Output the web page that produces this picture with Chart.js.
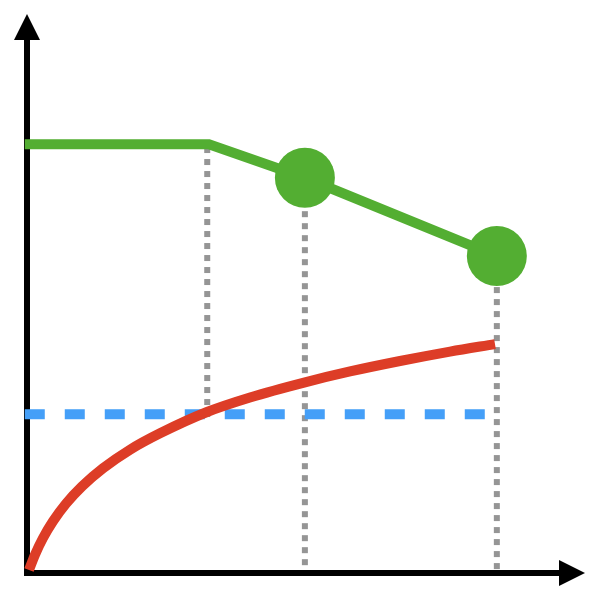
<!DOCTYPE html>
<html>
<head>
<meta charset="utf-8">
<script src="https://cdn.jsdelivr.net/npm/chart.js@4/dist/chart.umd.min.js"></script>
<style>
  body { margin: 0; background: #fff; }
  #wrap { width: 600px; height: 600px; }
</style>
</head>
<body>
<div id="wrap"><canvas id="diagram" width="600" height="600"></canvas></div>
<script>
// values (x and y both on a 0..100 scale)
const greenX = [-0.4, 32.6, 49.8, 84.2];
const greenY = [76.7, 76.7, 70.7, 56.7];
const greenDots = [0, 0, 30, 30];

const redX = [0.36, 1.43, 2.87, 4.66, 6.99, 9.86, 13.62, 18.46, 23.84, 32.26, 39.96, 49.82, 57.89, 66.85, 75.81, 83.87];
const redY = [0.54, 3.27, 6.26, 9.25, 12.40, 15.49, 18.73, 22.06, 24.99, 28.80, 31.40, 34.11, 36.05, 37.92, 39.61, 40.95];

const blueX = [-0.4, 82.1];
const blueLevel = 28.4;

const guideX = [32.3, 49.8, 84.2];
const guideBottom = [27.9, 1.4, 0.7];
const guideTop = [76.7, 70.7, 56.7];

const toPoints = (xs, ys) => xs.map((x, i) => ({ x: x, y: ys[i] }));

const guides = guideX.map((x, i) => ({
    data: [{ x: x, y: guideBottom[i] }, { x: x, y: guideTop[i] }],
    borderColor: '#959595',
    borderWidth: 6,
    borderDash: [6, 6],
    pointRadius: 0,
    clip: false,
    order: 4
}));

// black axes with arrow heads, drawn under the lines
const axesPlugin = {
    id: 'axes',
    beforeDatasetsDraw(chart) {
        const ctx = chart.ctx;
        const area = chart.chartArea;
        const x0 = chart.scales.x.getPixelForValue(0);
        const y0 = chart.scales.y.getPixelForValue(0);
        const head = 26;
        ctx.save();
        ctx.fillStyle = '#000';
        ctx.strokeStyle = '#000';
        ctx.lineWidth = 6;
        ctx.beginPath();
        ctx.moveTo(x0, y0 + 3);
        ctx.lineTo(x0, area.top + head);
        ctx.moveTo(x0 - 3, y0);
        ctx.lineTo(area.right - head, y0);
        ctx.stroke();
        ctx.beginPath();
        ctx.moveTo(x0, area.top);
        ctx.lineTo(x0 - head / 2, area.top + head);
        ctx.lineTo(x0 + head / 2, area.top + head);
        ctx.closePath();
        ctx.fill();
        ctx.beginPath();
        ctx.moveTo(area.right, y0);
        ctx.lineTo(area.right - head, y0 - head / 2);
        ctx.lineTo(area.right - head, y0 + head / 2);
        ctx.closePath();
        ctx.fill();
        ctx.restore();
    }
};

new Chart(document.getElementById('diagram'), {
    type: 'line',
    data: {
        datasets: [
            {
                data: toPoints(greenX, greenY),
                borderColor: '#53ae32',
                backgroundColor: '#53ae32',
                borderWidth: 10,
                pointRadius: greenDots,
                pointBorderWidth: 0,
                pointBackgroundColor: '#53ae32',
                clip: false,
                order: 1
            },
            {
                data: toPoints(redX, redY),
                borderColor: '#dd3d27',
                borderWidth: 10,
                cubicInterpolationMode: 'monotone',
                pointRadius: 0,
                clip: false,
                order: 2
            },
            {
                data: blueX.map(x => ({ x: x, y: blueLevel })),
                borderColor: '#449ff8',
                borderWidth: 10,
                borderDash: [20, 20],
                pointRadius: 0,
                clip: false,
                order: 3
            },
            ...guides
        ]
    },
    options: {
        responsive: false,
        animation: false,
        events: [],
        layout: { autoPadding: false, padding: { left: 27, right: 15, top: 14, bottom: 27 } },
        scales: {
            x: { type: 'linear', min: 0, max: 100, display: false },
            y: { type: 'linear', min: 0, max: 100, display: false }
        },
        plugins: {
            legend: { display: false },
            tooltip: { enabled: false }
        }
    },
    plugins: [axesPlugin]
});
</script>
</body>
</html>
